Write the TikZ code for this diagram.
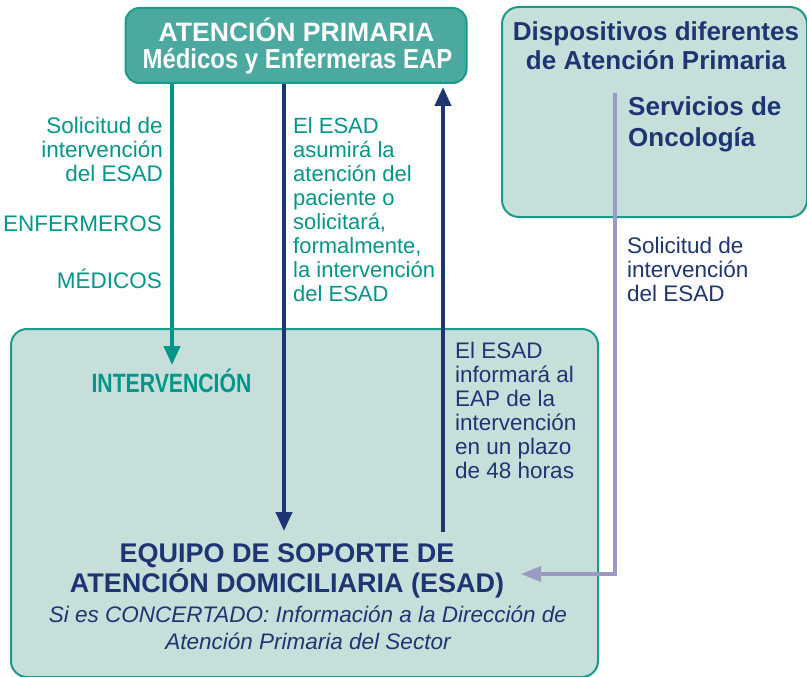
\documentclass[tikz,border=0pt]{standalone}
\usepackage{fontspec}
\setmainfont{Liberation Sans}
\newfontfamily\cndfont{Liberation Sans}[FakeStretch=0.87]
\newfontfamily\cndxfont{Liberation Sans}[FakeStretch=0.8]
\usetikzlibrary{arrows.meta}
\definecolor{tealfill}{HTML}{4CA9A0}
\definecolor{tealline}{HTML}{1B9A8B}
\definecolor{tealtext}{HTML}{00978A}
\definecolor{lightfill}{HTML}{C6DFDB}
\definecolor{navy}{HTML}{1F3572}
\definecolor{purp}{HTML}{9A9AC2}
\tikzset{
  boxshape/.style={draw=tealline, line width=2pt, rounded corners=14pt, anchor=north west, inner sep=0pt},
  txt/.style={inner sep=0pt, font=\fontsize{22.5}{24}\selectfont},
  tealarr/.style={draw=tealtext, line width=4pt, -{Triangle[width=16pt,length=19pt]}},
  navyarr/.style={draw=navy, line width=4pt, -{Triangle[width=16pt,length=19pt]}},
  purparr/.style={draw=purp, line width=3.5pt, -{Triangle[width=15pt,length=20pt]}},
}
\begin{document}
\begin{tikzpicture}[x=1pt,y=-1pt]
\useasboundingbox (0,0) rectangle (807,677);
% boxes
\node[boxshape, fill=tealfill, minimum width=341pt, minimum height=75pt] (ap) at (124.5,7) {};
\node[boxshape, fill=lightfill, rounded corners=17pt, minimum width=305pt, minimum height=210pt] (dev) at (501,6) {};
\node[boxshape, fill=lightfill, rounded corners=16pt, minimum width=587pt, minimum height=348pt] (esad) at (10,328) {};
% coordinates for connector ends
\coordinate (tl) at (172,365);
\coordinate (nd) at (284,531);
\coordinate (nu) at (443,532);
\coordinate (pu) at (615,93);
\coordinate (pt) at (521,574);
% connectors
\draw[tealarr] (ap.south -| tl) -- (tl);
\draw[navyarr] (ap.south -| nd) -- (nd);
\draw[navyarr, shorten >=3pt] (nu) -- (ap.south -| nu);
\draw[purparr] (pu) |- (pt);
% top box text
\node[inner sep=0pt, anchor=base, text=white, font=\fontsize{26.6}{27}\selectfont\bfseries] (ap1) at (296.5,41.7) {ATENCIÓN PRIMARIA};
\node[inner sep=0pt, anchor=base, text=white, font=\cndfont\fontsize{27.5}{27}\selectfont\bfseries] (ap2) at (297.5,68.3) {Médicos y Enfermeras EAP};
% right box text (base = last line)
\node[inner sep=0pt, anchor=base, align=center, text=navy, font=\fontsize{26}{29}\selectfont\bfseries] (dev1) at (656,70) {Dispositivos diferentes\\de Atención Primaria};
\node[inner sep=0pt, anchor=base west, align=left, text=navy, font=\fontsize{26}{31.5}\selectfont\bfseries] (onc) at (628,146.5) {Servicios de\\Oncología};
% left teal texts
\node[txt, anchor=base east, align=right, text=tealtext] (sol1) at (163,181) {Solicitud de\\intervención\\del ESAD};
\node[txt, anchor=base east, text=tealtext] (enf) at (162,231) {ENFERMEROS};
\node[txt, anchor=base east, text=tealtext] (med) at (162,288) {MÉDICOS};
\node[inner sep=0pt, anchor=base, text=tealtext, font=\cndxfont\fontsize{26.5}{27}\selectfont\bfseries] (intv) at (171.5,392) {INTERVENCIÓN};
% middle texts
\node[txt, anchor=base west, align=left, text=tealtext, font=\fontsize{22}{24}\selectfont] (asum) at (293,301) {El ESAD\\asumirá la\\atención del\\paciente o\\solicitará,\\formalmente,\\la intervención\\del ESAD};
\node[txt, anchor=base west, align=left, text=navy] (inf) at (455,478) {El ESAD\\informará al\\EAP de la\\intervención\\en un plazo\\de 48 horas};
\node[txt, anchor=base west, align=left, text=navy] (sol2) at (627,301) {Solicitud de\\intervención\\del ESAD};
% bottom box texts
\node[inner sep=0pt, anchor=base, align=center, text=navy, font=\fontsize{27}{30}\selectfont\bfseries] (eq) at (287,592) {EQUIPO DE SOPORTE DE\\ATENCIÓN DOMICILIARIA (ESAD)};
\node[inner sep=0pt, anchor=base, align=center, text=navy, font=\fontsize{22.5}{27}\selectfont\itshape] (conc) at (308,649) {Si es CONCERTADO: Información a la Dirección de\\Atención Primaria del Sector};
\end{tikzpicture}
\end{document}
